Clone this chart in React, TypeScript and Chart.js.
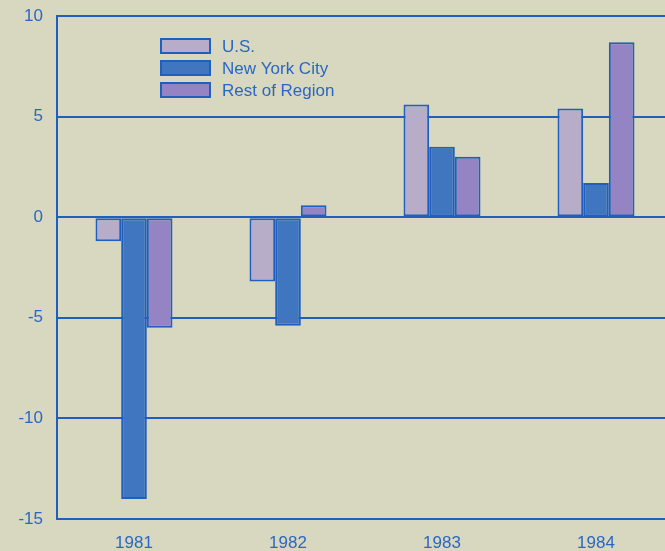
import React, { useEffect, useRef } from 'react';
import { Chart, registerables } from 'chart.js';

Chart.register(...registerables);

const categories = ['1981', '1982', '1983', '1984'];
const seriesLabels = ['U.S.', 'New York City', 'Rest of Region'];
const usValues = [-1.2, -3.2, 5.6, 5.4];
const nycValues = [-14.0, -5.4, 3.5, 1.7];
const restValues = [-5.5, 0.6, 3.0, 8.7];
const yTicks = [-15, -10, -5, 0, 5, 10];

const BG = '#d8d7bf';
const BLUE = '#1f5fc0';
const TEXT = '#2a67c4';
const FILLS = ['#b7adc9', '#3f76bf', '#9584c3'];
const FONT = '"Liberation Sans", Arial, sans-serif';

const legendPlugin = {
  id: 'boxLegend',
  afterDraw(chart: any) {
    const ctx = chart.ctx;
    ctx.save();
    chart.data.datasets.forEach((ds: any, i: number) => {
      const cy = 46 + i * 22;
      ctx.fillStyle = ds.backgroundColor;
      ctx.fillRect(161, cy - 7, 49, 14);
      ctx.strokeStyle = BLUE;
      ctx.lineWidth = 2;
      ctx.strokeRect(161, cy - 7, 49, 14);
      ctx.fillStyle = TEXT;
      ctx.font = '17px ' + FONT;
      ctx.textBaseline = 'middle';
      ctx.textAlign = 'left';
      ctx.fillText(ds.label, 222, cy + 1);
    });
    ctx.restore();
  },
};

export default function App() {
  const ref = useRef<HTMLCanvasElement | null>(null);
  useEffect(() => {
    if (!ref.current) return;
    const values = [usValues, nycValues, restValues];
    const chart = new Chart(ref.current, {
      type: 'bar',
      data: {
        labels: categories,
        datasets: seriesLabels.map((label, i) => ({
          label,
          data: values[i],
          backgroundColor: FILLS[i],
          borderColor: BLUE,
          borderWidth: 2,
          borderSkipped: false,
          categoryPercentage: 0.5,
          barPercentage: 1,
        })),
      },
      options: {
        responsive: false,
        animation: false,
        layout: { padding: { top: 16, right: 7, left: 0, bottom: 0 } },
        plugins: {
          legend: { display: false },
          tooltip: { enabled: false },
        },
        scales: {
          x: {
            grid: { display: false, drawTicks: false },
            border: { display: true, color: BLUE, width: 2 },
            ticks: { color: TEXT, font: { family: FONT, size: 17 }, padding: 14 },
            afterFit: (s: any) => { s.height = 32; s.paddingLeft = 0; s.paddingRight = 0; },
          },
          y: {
            min: -15,
            max: 10,
            afterBuildTicks: (s: any) => { s.ticks = yTicks.map((v) => ({ value: v })); },
            grid: { color: BLUE, lineWidth: 2, drawTicks: false },
            border: { display: true, color: BLUE, width: 2 },
            ticks: { color: TEXT, font: { family: FONT, size: 17 }, padding: 14 },
            afterFit: (s: any) => { s.width = 57; s.paddingTop = 0; s.paddingBottom = 0; },
          },
        },
      },
      plugins: [legendPlugin],
    });
    return () => chart.destroy();
  }, []);
  return (
    <div style={{ position: 'fixed', left: 0, top: 0, width: 665, height: 551, overflow: 'hidden', background: BG }}>
      <canvas ref={ref} width={680} height={551} style={{ display: 'block' }} />
    </div>
  );
}
